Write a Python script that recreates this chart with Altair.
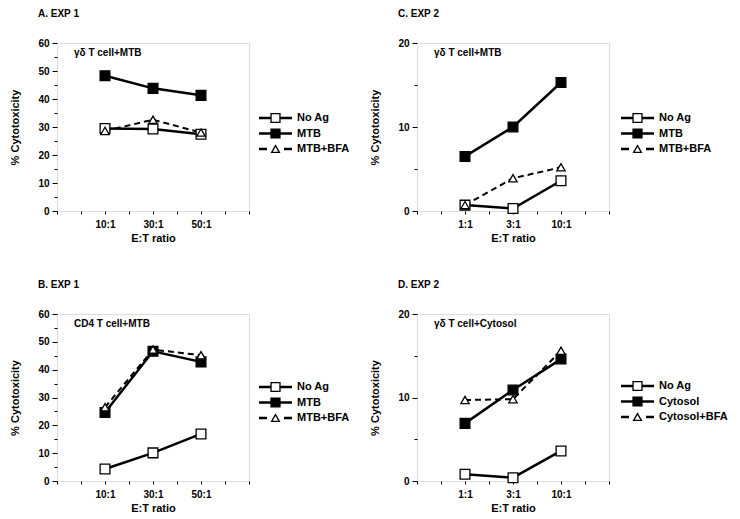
import altair as alt
import pandas as pd

FONT = "Liberation Sans"

# ---- data ----
a_cats = ["10:1", "30:1", "50:1"]
a_names = ["No Ag", "MTB", "MTB+BFA"]
a_noag = [29.5, 29.3, 27.4]
a_mtb = [48.3, 43.8, 41.3]
a_bfa = [28.6, 32.6, 28.0]

b_cats = ["10:1", "30:1", "50:1"]
b_names = ["No Ag", "MTB", "MTB+BFA"]
b_noag = [4.3, 10.1, 16.9]
b_mtb = [24.6, 46.6, 42.8]
b_bfa = [26.5, 47.2, 45.2]

c_cats = ["1:1", "3:1", "10:1"]
c_names = ["No Ag", "MTB", "MTB+BFA"]
c_noag = [0.7, 0.3, 3.6]
c_mtb = [6.5, 10.0, 15.3]
c_bfa = [0.7, 3.9, 5.2]

d_cats = ["1:1", "3:1", "10:1"]
d_names = ["No Ag", "Cytosol", "Cytosol+BFA"]
d_noag = [0.8, 0.4, 3.6]
d_cyt = [6.9, 10.9, 14.6]
d_bfa = [9.7, 9.8, 15.6]

STYLES = [
    dict(dash=None, width=2.5, shape="square", fill="white"),
    dict(dash=None, width=2.5, shape="square", fill="black"),
    dict(dash=[6, 4], width=2.0, shape="triangle-up", fill="white"),
]

W = 192


def panel(title, note, cats, names, vals, ymax, step, height, leg_y0, leg_x0):
    rows = []
    for name, v in zip(names, vals):
        for i, (c, val) in enumerate(zip(cats, v)):
            rows.append({"series": name, "pos": 2 * (i + 1), "cat": c, "value": val})
    df = pd.DataFrame(rows)

    label_expr = ""
    for i, c in enumerate(cats):
        label_expr += f"datum.value == {2 * (i + 1)} ? '{c}' : "
    label_expr += "''"

    x = alt.X(
        "pos:Q",
        scale=alt.Scale(domain=[0, 8], nice=False, zero=False),
        axis=alt.Axis(
            values=list(range(0, 9)), labelExpr=label_expr, title="E:T ratio",
            domain=False, grid=False, tickSize=3, tickColor="black", tickWidth=1,
            labelFont=FONT, labelFontSize=10, labelFontWeight="bold", labelColor="black",
            labelPadding=5, labelOverlap=False, labelFlush=False,
            titleFont=FONT, titleFontSize=11, titleFontWeight="bold", titleColor="black",
            titlePadding=3,
        ),
    )
    y = alt.Y(
        "value:Q",
        scale=alt.Scale(domain=[0, ymax], nice=False, zero=True),
        axis=alt.Axis(
            values=list(range(0, ymax + 1, step // 2)),
            labelExpr=f"datum.value % {step} == 0 ? datum.label : ''",
            title="% Cytotoxicity", domain=False, grid=False,
            tickSize={"condition": {"test": f"datum.value % {step} == 0", "value": 5}, "value": 3},
            tickColor="black", tickWidth=1,
            labelFont=FONT, labelFontSize=10, labelFontWeight="bold", labelColor="black",
            labelPadding=3, labelOverlap=False, labelFlush=False,
            titleFont=FONT, titleFontSize=11, titleFontWeight="bold", titleColor="black",
            titlePadding=17,
        ),
    )

    layers = []
    base = alt.Chart(df)
    for name, st in zip(names, STYLES):
        kw = dict(color="black", strokeWidth=st["width"])
        if st["dash"]:
            kw["strokeDash"] = st["dash"]
        layers.append(
            base.transform_filter(alt.datum.series == name).mark_line(**kw).encode(x=x, y=y)
        )
    for name, st in zip(names, STYLES):
        layers.append(
            base.transform_filter(alt.datum.series == name)
            .mark_point(shape=st["shape"], filled=True, fill=st["fill"], stroke="black",
                        strokeWidth=1.3, size=95 if st["shape"] == "square" else 70, opacity=1)
            .encode(x=x, y=y)
        )

    # legend drawn beside the frame
    for i, (name, st) in enumerate(zip(names, STYLES)):
        yy = leg_y0 + i * 15.5
        ld = pd.DataFrame({"label": [name]})
        kw = dict(color="black", strokeWidth=2.5)
        if st["dash"]:
            kw["strokeDash"] = [8, 17]
        layers.append(alt.Chart(ld).mark_rule(**kw).encode(
            x=alt.value(leg_x0), x2=alt.value(leg_x0 + 33), y=alt.value(yy)))
        layers.append(alt.Chart(ld).mark_point(
            shape=st["shape"], filled=True, fill=st["fill"], stroke="black", strokeWidth=1.3,
            size=80 if st["shape"] == "square" else 60, opacity=1).encode(
            x=alt.value(leg_x0 + 16.5), y=alt.value(yy)))
        layers.append(alt.Chart(ld).mark_text(
            align="left", baseline="middle", font=FONT, fontSize=11, fontWeight="bold",
            color="black").encode(x=alt.value(leg_x0 + 38), y=alt.value(yy), text="label:N"))

    td = pd.DataFrame({"t": [title]})
    layers.append(alt.Chart(td).mark_text(
        align="left", baseline="middle", font=FONT, fontSize=10, fontWeight="bold",
        color="black").encode(x=alt.value(-19), y=alt.value(-29), text="t:N"))
    nd = pd.DataFrame({"t": [note]})
    layers.append(alt.Chart(nd).mark_text(
        align="left", baseline="middle", font=FONT, fontSize=10, fontWeight="bold",
        color="black").encode(x=alt.value(17), y=alt.value(10), text="t:N"))

    return alt.layer(*layers).properties(width=W, height=height)


pA = panel("A. EXP 1", "γδ T cell+MTB", a_cats, a_names, [a_noag, a_mtb, a_bfa], 60, 10, 168, 75, 202)
pC = panel("C. EXP 2", "γδ T cell+MTB", c_cats, c_names, [c_noag, c_mtb, c_bfa], 20, 10, 168, 75, 204)
pB = panel("B. EXP 1", "CD4 T cell+MTB", b_cats, b_names, [b_noag, b_mtb, b_bfa], 60, 10, 167, 73, 202)
pD = panel("D. EXP 2", "γδ T cell+Cytosol", d_cats, d_names, [d_noag, d_cyt, d_bfa], 20, 10, 167, 72, 204)

chart = alt.concat(pA, pC, pB, pD, columns=2, spacing={"row": 103, "column": 168},
                   bounds="flush",
                   padding={"left": 1, "top": 0, "right": 0, "bottom": 0}).configure_view(
    stroke="black", strokeWidth=1.5
).configure(background="white")

chart.save("out.html", embed_options={"renderer": "svg", "actions": False})
